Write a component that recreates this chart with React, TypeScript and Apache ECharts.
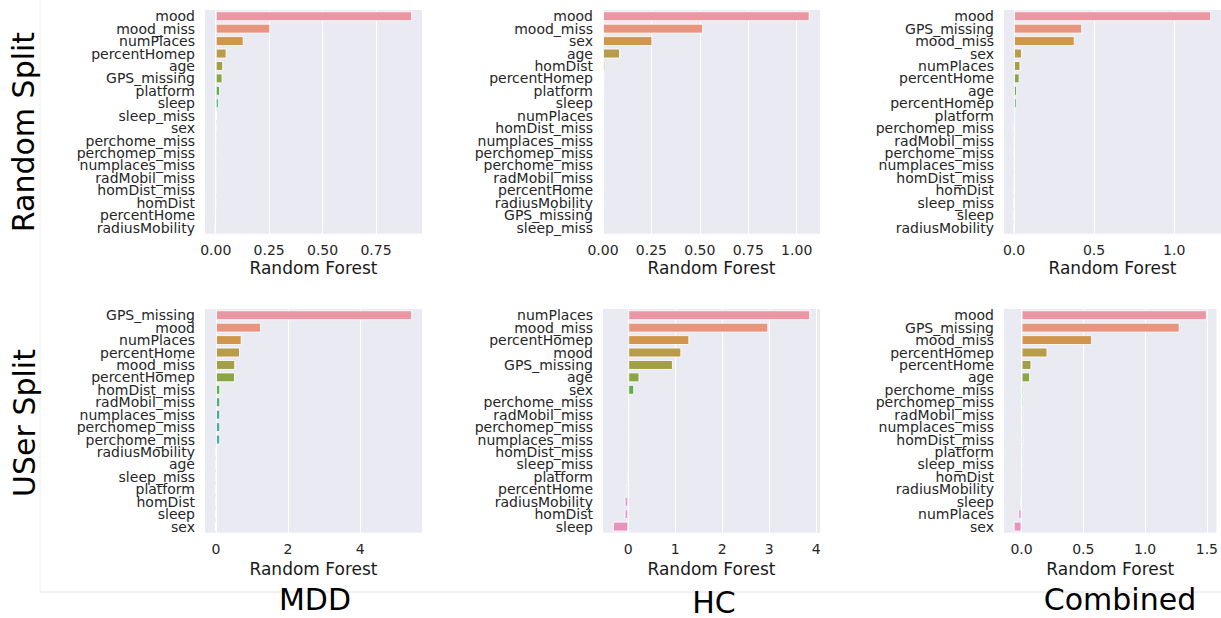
import React, { useEffect, useRef } from "react";
import * as echarts from "echarts";

// ---------------- DATA ----------------
const p1Cats = ["mood", "mood_miss", "numPlaces", "percentHomep", "age", "GPS_missing", "platform", "sleep", "sleep_miss", "sex", "perchome_miss", "perchomep_miss", "numplaces_miss", "radMobil_miss", "homDist_miss", "homDist", "percentHome", "radiusMobility"];
const p1Vals = [0.919, 0.255, 0.131, 0.051, 0.035, 0.032, 0.02, 0.015, 0.006, 0.001, 0, 0, 0, 0, 0, 0, -0.001, -0.004];

const p2Cats = ["mood", "mood_miss", "sex", "age", "homDist", "percentHomep", "platform", "sleep", "numPlaces", "homDist_miss", "numplaces_miss", "perchomep_miss", "perchome_miss", "radMobil_miss", "percentHome", "radiusMobility", "GPS_missing", "sleep_miss"];
const p2Vals = [1.067, 0.516, 0.255, 0.088, 0.012, 0.008, 0.006, 0.002, 0.001, 0, 0, 0, 0, 0, 0, 0, 0, 0];

const p3Cats = ["mood", "GPS_missing", "mood_miss", "sex", "numPlaces", "percentHome", "age", "percentHomep", "platform", "perchomep_miss", "radMobil_miss", "perchome_miss", "numplaces_miss", "homDist_miss", "homDist", "sleep_miss", "sleep", "radiusMobility"];
const p3Vals = [1.231, 0.425, 0.379, 0.05, 0.04, 0.035, 0.019, 0.017, 0.013, 0.003, 0.003, 0.002, 0.002, 0.002, 0.001, 0, -0.001, -0.001];

const p4Cats = ["GPS_missing", "mood", "numPlaces", "percentHome", "mood_miss", "percentHomep", "homDist_miss", "radMobil_miss", "numplaces_miss", "perchomep_miss", "perchome_miss", "radiusMobility", "age", "sleep_miss", "platform", "homDist", "sleep", "sex"];
const p4Vals = [5.44, 1.25, 0.713, 0.667, 0.535, 0.528, 0.12, 0.12, 0.12, 0.12, 0.12, 0.005, 0.003, 0.002, 0, -0.002, -0.005, -0.03];

const p5Cats = ["numPlaces", "mood_miss", "percentHomep", "mood", "GPS_missing", "age", "sex", "perchome_miss", "radMobil_miss", "perchomep_miss", "numplaces_miss", "homDist_miss", "sleep_miss", "platform", "percentHome", "radiusMobility", "homDist", "sleep"];
const p5Vals = [3.87, 2.98, 1.3, 1.13, 0.95, 0.24, 0.128, 0.02, 0.015, 0.015, 0.015, 0.01, 0.005, -0.005, -0.05, -0.078, -0.078, -0.327];

const p6Cats = ["mood", "GPS_missing", "mood_miss", "percentHomep", "percentHome", "age", "perchome_miss", "perchomep_miss", "radMobil_miss", "numplaces_miss", "homDist_miss", "platform", "sleep_miss", "homDist", "radiusMobility", "sleep", "numPlaces", "sex"];
const p6Vals = [1.5, 1.28, 0.57, 0.21, 0.08, 0.069, 0.016, 0.016, 0.015, 0.015, 0.015, 0.015, 0.002, 0.001, 0, -0.01, -0.027, -0.064];

const p1Ticks = [0, 0.25, 0.5, 0.75];
const p2Ticks = [0, 0.25, 0.5, 0.75, 1.0];
const p3Ticks = [0, 0.5, 1.0];
const p4Ticks = [0, 2, 4];
const p5Ticks = [0, 1, 2, 3, 4];
const p6Ticks = [0, 0.5, 1.0, 1.5];

const tickDecimals = [2, 2, 1, 0, 0, 1];
const rowTitles = ["Random Split", "USer Split"];
const colTitles = ["MDD", "HC", "Combined"];
const xAxisTitle = "Random Forest";

// ---------------- seaborn husl palette ----------------
const M = [
  [3.2406, -1.5372, -0.4986],
  [-0.9689, 1.8758, 0.0415],
  [0.0557, -0.204, 1.057],
];
const refU = 0.19784;
const refV = 0.46834;
const labE = 0.008856;
const labK = 903.3;

function maxChroma(L: number, H: number) {
  const hrad = (H / 180) * Math.PI;
  const sinH = Math.sin(hrad);
  const cosH = Math.cos(hrad);
  const sub1 = Math.pow(L + 16, 3) / 1560896.0;
  const sub2 = sub1 > 0.008856 ? sub1 : L / 903.3;
  let result = Infinity;
  for (const [m1, m2, m3] of M) {
    const top = (0.99915 * m1 + 1.05122 * m2 + 1.1446 * m3) * sub2;
    const rbottom = 0.8633 * m3 - 0.17266 * m2;
    const lbottom = 0.12949 * m3 - 0.38848 * m1;
    const bottom = (rbottom * sinH + lbottom * cosH) * sub2;
    for (const t of [0, 1]) {
      const C = (L * (top - 1.05122 * t)) / (bottom + 0.17266 * sinH * t);
      if (C > 0 && C < result) result = C;
    }
  }
  return result;
}
function fInv(t: number) {
  return Math.pow(t, 3) > labE ? Math.pow(t, 3) : (116 * t - 16) / labK;
}
function fromLinear(c: number) {
  return c <= 0.0031308 ? 12.92 * c : 1.055 * Math.pow(c, 1 / 2.4) - 0.055;
}
function huslToRgb(H: number, S: number, L: number): number[] {
  let C: number;
  if (L > 99.9999) C = 0;
  else if (L < 0.00001) C = 0;
  else C = (maxChroma(L, H) / 100) * S;
  const hrad = (H / 180) * Math.PI;
  const U = Math.cos(hrad) * C;
  const V = Math.sin(hrad) * C;
  if (L === 0) return [0, 0, 0];
  const varY = fInv((L + 16) / 116);
  const varU = U / (13 * L) + refU;
  const varV = V / (13 * L) + refV;
  const Y = varY;
  const X = 0 - (9 * Y * varU) / ((varU - 4) * varV - varU * varV);
  const Z = (9 * Y - 15 * varV * Y - varV * X) / (3 * varV);
  return M.map((row) => {
    const v = fromLinear(row[0] * X + row[1] * Y + row[2] * Z);
    return Math.min(1, Math.max(0, v));
  });
}
function rgbToHls(r: number, g: number, b: number) {
  const maxc = Math.max(r, g, b);
  const minc = Math.min(r, g, b);
  const l = (minc + maxc) / 2;
  if (minc === maxc) return [0, l, 0];
  const s = l <= 0.5 ? (maxc - minc) / (maxc + minc) : (maxc - minc) / (2 - maxc - minc);
  const rc = (maxc - r) / (maxc - minc);
  const gc = (maxc - g) / (maxc - minc);
  const bc = (maxc - b) / (maxc - minc);
  let h: number;
  if (r === maxc) h = bc - gc;
  else if (g === maxc) h = 2 + rc - bc;
  else h = 4 + gc - rc;
  h = (((h / 6) % 1) + 1) % 1;
  return [h, l, s];
}
function vv(m1: number, m2: number, hue: number) {
  hue = ((hue % 1) + 1) % 1;
  if (hue < 1 / 6) return m1 + (m2 - m1) * hue * 6;
  if (hue < 0.5) return m2;
  if (hue < 2 / 3) return m1 + (m2 - m1) * (2 / 3 - hue) * 6;
  return m1;
}
function hlsToRgb(h: number, l: number, s: number) {
  if (s === 0) return [l, l, l];
  const m2 = l <= 0.5 ? l * (1 + s) : l + s - l * s;
  const m1 = 2 * l - m2;
  return [vv(m1, m2, h + 1 / 3), vv(m1, m2, h), vv(m1, m2, h - 1 / 3)];
}
function toHex(rgb: number[]) {
  return "#" + rgb.map((c) => Math.round(Math.min(1, Math.max(0, c)) * 255).toString(16).padStart(2, "0")).join("");
}
function seabornPalette(n: number): string[] {
  const out: string[] = [];
  for (let i = 0; i < n; i++) {
    const hue = ((i / n + 0.01) % 1) * 359;
    const rgb = huslToRgb(hue, 0.9 * 99, 0.7 * 99);
    const [h, l, s] = rgbToHls(rgb[0], rgb[1], rgb[2]);
    out.push(toHex(hlsToRgb(h, l, s * 0.75)));
  }
  return out;
}

// ---------------- CHART ----------------
const panels = [
  { cats: p1Cats, vals: p1Vals, ticks: p1Ticks },
  { cats: p2Cats, vals: p2Vals, ticks: p2Ticks },
  { cats: p3Cats, vals: p3Vals, ticks: p3Ticks },
  { cats: p4Cats, vals: p4Vals, ticks: p4Ticks },
  { cats: p5Cats, vals: p5Vals, ticks: p5Ticks },
  { cats: p6Cats, vals: p6Vals, ticks: p6Ticks },
];

const FONT = "DejaVu Sans";
const colLefts = [205, 603, 1004];
const rowTops = [10, 309];
const rowNameGaps = [26, 28];
const gridW = 217;
const gridH = 223.8;

function axisRange(vals: number[]) {
  const lo = Math.min(0, ...vals);
  const hi = Math.max(0, ...vals);
  const span = hi - lo;
  return [lo < 0 ? lo - 0.05 * span : 0, hi + 0.05 * span];
}

export default function App() {
  const ref = useRef<HTMLDivElement>(null);
  useEffect(() => {
    if (!ref.current) return;
    const chart = echarts.init(ref.current, null, { renderer: "svg" });
    const palette = seabornPalette(18);
    const grids: any[] = [];
    const xAxes: any[] = [];
    const yAxes: any[] = [];
    const series: any[] = [];
    panels.forEach((p, i) => {
      const row = Math.floor(i / 3);
      const col = i % 3;
      grids.push({
        left: colLefts[col],
        top: rowTops[row],
        width: gridW,
        height: gridH,
        backgroundColor: "#EAEAF2",
        show: true,
        borderWidth: 0,
        containLabel: false,
      });
      const [mn, mx] = axisRange(p.vals);
      const dec = tickDecimals[i];
      xAxes.push({
        type: "value",
        gridIndex: i,
        min: mn,
        max: mx,
        axisLine: { show: false },
        axisTick: { show: false, customValues: p.ticks },
        splitLine: { show: true, lineStyle: { color: "#ffffff", width: 1 } },
        axisLabel: {
          customValues: p.ticks,
          formatter: (v: number) => v.toFixed(dec),
          fontFamily: FONT,
          fontSize: 14,
          color: "#262626",
          margin: 9,
        },
        name: xAxisTitle,
        nameLocation: "middle",
        nameGap: rowNameGaps[row],
        nameTextStyle: { fontFamily: FONT, fontSize: 17, color: "#1a1a1a" },
      });
      yAxes.push({
        type: "category",
        gridIndex: i,
        data: p.cats,
        inverse: true,
        axisLine: { show: false },
        axisTick: { show: false },
        splitLine: { show: false },
        axisLabel: {
          interval: 0,
          fontFamily: FONT,
          fontSize: 14,
          color: "#262626",
          margin: 10,
        },
      });
      series.push({
        type: "bar",
        xAxisIndex: i,
        yAxisIndex: i,
        barWidth: "80%",
        data: p.vals.map((v, k) => ({
          value: v,
          itemStyle: { color: palette[k] },
        })),
        itemStyle: { borderColor: "rgba(255,255,255,0.85)", borderWidth: 1 },
        emphasis: { disabled: true },
      });
    });

    const graphics: any[] = [
      { type: "line", shape: { x1: 40, y1: 0, x2: 40, y2: 592 }, style: { stroke: "#f0f0f0", lineWidth: 1 } },
      { type: "line", shape: { x1: 40, y1: 592, x2: 1221, y2: 592 }, style: { stroke: "#e2e2e2", lineWidth: 1 } },
      {
        type: "text", x: 23, y: 132, rotation: Math.PI / 2,
        style: { text: rowTitles[0], font: `30px "${FONT}"`, fill: "#000", align: "center", verticalAlign: "middle" },
      },
      {
        type: "text", x: 24, y: 423, rotation: Math.PI / 2,
        style: { text: rowTitles[1], font: `30px "${FONT}"`, fill: "#000", align: "center", verticalAlign: "middle" },
      },
      { type: "text", x: 315, y: 599, style: { text: colTitles[0], font: `30px "${FONT}"`, fill: "#000", align: "center", verticalAlign: "middle" } },
      { type: "text", x: 714, y: 602, style: { text: colTitles[1], font: `30px "${FONT}"`, fill: "#000", align: "center", verticalAlign: "middle" } },
      { type: "text", x: 1120, y: 599, style: { text: colTitles[2], font: `30px "${FONT}"`, fill: "#000", align: "center", verticalAlign: "middle" } },
    ];

    chart.setOption({
      animation: false,
      backgroundColor: "#ffffff",
      grid: grids,
      xAxis: xAxes,
      yAxis: yAxes,
      series,
      graphic: graphics,
    });
    return () => chart.dispose();
  }, []);
  return <div ref={ref} style={{ position: "fixed", left: 0, top: 0, width: 1221, height: 618 }} />;
}
